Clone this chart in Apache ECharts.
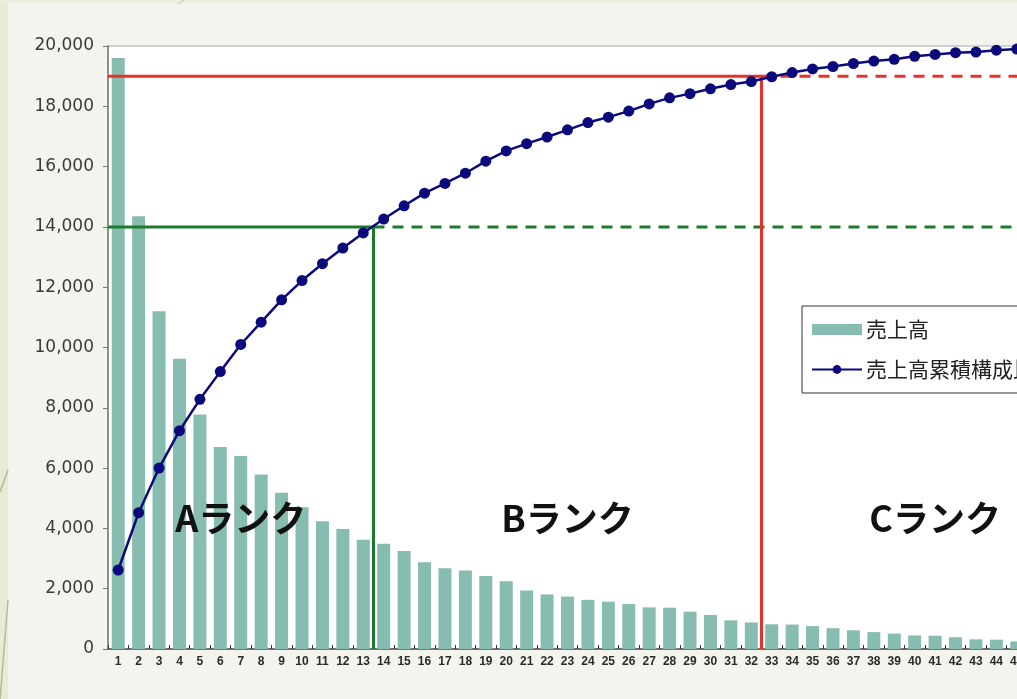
<!DOCTYPE html>
<html>
<head>
<meta charset="utf-8">
<script src="https://cdn.jsdelivr.net/npm/echarts@6/dist/echarts.min.js"></script>
<style>
  html, body { margin: 0; padding: 0; overflow: hidden; background: #f4f4ef; }
  #strip-left { position: absolute; left: 0; top: 0; width: 8px; height: 699px; background: #e7ead5; }
  #strip-top { position: absolute; left: 0; top: 0; width: 1017px; height: 3px; background: #eceedf; }
  #deco { position: absolute; left: 0; top: 0; pointer-events: none; }
  #chart { position: absolute; left: 0; top: 0; width: 1100px; height: 699px; }
</style>
</head>
<body>
<div id="strip-left"></div>
<div id="strip-top"></div>
<svg id="deco" width="1017" height="699">
  <line x1="0" y1="700" x2="8" y2="600" stroke="#a9a37a" stroke-width="1.5" opacity="0.7"/>
  <line x1="0" y1="492" x2="8" y2="470" stroke="#a9a37a" stroke-width="1.5" opacity="0.7"/>
  <line x1="178" y1="4" x2="184" y2="0" stroke="#a9a37a" stroke-width="1" opacity="0.6"/>
</svg>
<div id="chart"></div>
<script>
// Product ranks 1..45, sorted by sales (descending)
const categories = ['1','2','3','4','5','6','7','8','9','10','11','12','13','14','15',
  '16','17','18','19','20','21','22','23','24','25','26','27','28','29','30',
  '31','32','33','34','35','36','37','38','39','40','41','42','43','44','45'];

// 売上高 per product
const sales = [19600, 14350, 11200, 9630, 7780, 6700, 6400, 5790, 5180, 4700,
  4240, 3980, 3620, 3490, 3250, 2880, 2680, 2600, 2420, 2250,
  1940, 1810, 1740, 1630, 1570, 1490, 1380, 1370, 1240, 1130,
  950, 880, 820, 810, 760, 690, 620, 560, 510, 450,
  440, 390, 320, 310, 250];

// 売上高累積構成比 (%)
const cumulativeShare = [13.1, 22.6, 30.0, 36.2, 41.4, 46.0, 50.5, 54.2, 57.9, 61.1,
  63.9, 66.5, 69.0, 71.3, 73.5, 75.6, 77.2, 78.9, 80.9, 82.6,
  83.8, 84.9, 86.1, 87.3, 88.2, 89.2, 90.4, 91.4, 92.1, 92.9,
  93.6, 94.1, 94.9, 95.6, 96.2, 96.6, 97.1, 97.5, 97.8, 98.3,
  98.6, 98.9, 99.0, 99.3, 99.5];

// Rank thresholds (cumulative %) and the rank boundaries on the item axis
const rankThresholds = [70, 95];
const rankBoundaries = [13.5, 32.5];

// Rank captions, anchored at [item, sales value]
const rankLabels = ['Aランク', 'Bランク', 'Cランク'];
const rankLabelItems = ['7', '23', '41'];
const rankLabelValue = 4320;

const yTicks = { min: 0, max: 20000, interval: 2000 };

const GREEN = '#1d7a2c';
const RED = '#e8312a';
const axisEnd = categories.length + 0.5;

function guide(points, color, dashed) {
  return {
    type: 'line', xAxisIndex: 1, yAxisIndex: 1, data: points,
    symbol: 'none', silent: true, z: 3, legendHoverLink: false,
    lineStyle: { color: color, width: 3, type: dashed ? [11, 8] : 'solid' },
    tooltip: { show: false }
  };
}

const chart = echarts.init(document.getElementById('chart'), null, { renderer: 'canvas' });

chart.setOption({
  animation: false,
  backgroundColor: 'transparent',
  textStyle: { fontFamily: 'DejaVu Sans' },
  grid: {
    left: 108, top: 46, right: 73, bottom: 50,
    show: true, backgroundColor: '#ffffff',
    borderColor: '#c4c4c4', borderWidth: 1.5
  },
  legend: {
    orient: 'vertical', left: 802, top: 306,
    padding: [13, 8, 13, 9], itemGap: 19,
    itemWidth: 50, itemHeight: 11,
    backgroundColor: '#ffffff', borderColor: '#333', borderWidth: 1,
    textStyle: { fontSize: 21, color: '#222', fontFamily: 'Noto Sans CJK JP', padding: [0, 0, 0, -1] },
    data: [{ name: '売上高', icon: 'rect' }, { name: '売上高累積構成比' }]
  },
  xAxis: [{
    type: 'category', data: categories, boundaryGap: true,
    axisLine: { lineStyle: { color: '#555', width: 1.5 } },
    axisTick: { show: true, inside: true, length: 4, lineStyle: { color: '#333' } },
    axisLabel: {
      interval: 0, margin: 7, fontSize: 12, fontWeight: 'bold',
      color: '#2a2a2a', fontFamily: 'Liberation Sans'
    }
  }, {
    type: 'value', min: 0.5, max: axisEnd, show: false
  }],
  yAxis: [{
    type: 'value', min: yTicks.min, max: yTicks.max, interval: yTicks.interval,
    axisLine: { show: true, lineStyle: { color: '#777', width: 1.5 } },
    axisTick: { show: true, length: 5, lineStyle: { color: '#777' } },
    splitLine: { show: false },
    axisLabel: { fontSize: 17, color: '#3a3a3a', margin: 14, fontFamily: 'DejaVu Sans' }
  }, {
    type: 'value', min: 0, max: 100, show: false, splitLine: { show: false }
  }],
  series: [{
    name: '売上高', type: 'bar', data: sales, barWidth: 13, z: 2,
    itemStyle: { color: '#87bcb1' },
    markPoint: {
      symbol: 'circle', symbolSize: 1,
      itemStyle: { color: 'rgba(0,0,0,0)' },
      label: {
        show: true, position: 'inside', formatter: '{b}',
        fontSize: 36, fontWeight: 'bold', color: '#111',
        fontFamily: 'Noto Sans CJK JP'
      },
      data: rankLabels.map((t, i) => ({ name: t, coord: [rankLabelItems[i], rankLabelValue] }))
    }
  },
  guide([[0.5, rankThresholds[0]], [rankBoundaries[0], rankThresholds[0]], [rankBoundaries[0], 0]], GREEN, false),
  guide([[rankBoundaries[0], rankThresholds[0]], [axisEnd, rankThresholds[0]]], GREEN, true),
  guide([[0.5, rankThresholds[1]], [rankBoundaries[1], rankThresholds[1]], [rankBoundaries[1], 0]], RED, false),
  guide([[rankBoundaries[1], rankThresholds[1]], [axisEnd, rankThresholds[1]]], RED, true),
  {
    name: '売上高累積構成比', type: 'line', yAxisIndex: 1, data: cumulativeShare, z: 5,
    symbol: 'circle', symbolSize: 11,
    lineStyle: { color: '#0a0a7c', width: 2.5 },
    itemStyle: { color: '#0a0a7c' }
  }]
});
</script>
</body>
</html>
